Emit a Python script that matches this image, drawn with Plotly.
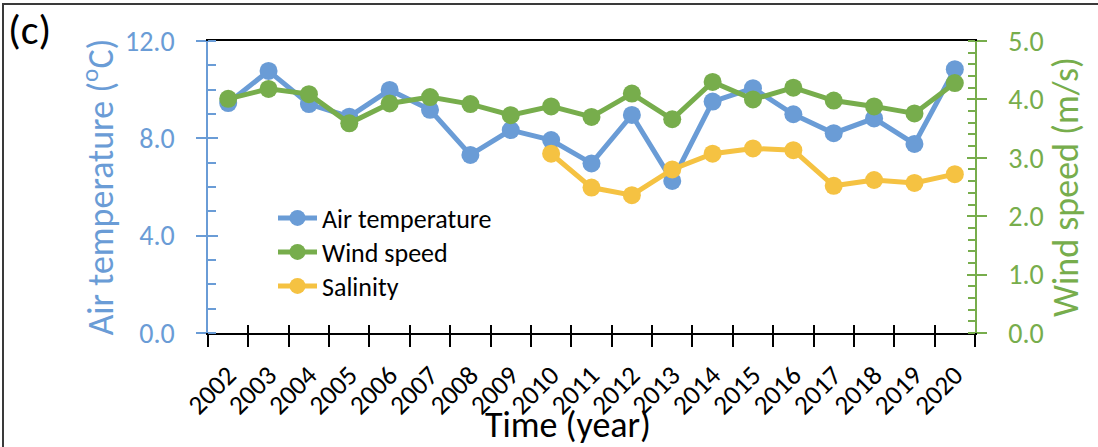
import plotly.graph_objects as go

years = [str(y) for y in range(2002, 2021)]
air_temperature = [9.45, 10.77, 9.41, 8.89, 9.99, 9.17, 7.32, 8.34, 7.93, 6.97,
                   8.96, 6.25, 9.51, 10.06, 8.99, 8.21, 8.82, 7.77, 10.84]
wind_speed = [4.01, 4.18, 4.09, 3.59, 3.93, 4.04, 3.92, 3.73, 3.88, 3.70,
              4.10, 3.66, 4.30, 4.00, 4.20, 3.98, 3.88, 3.76, 4.28]
salinity = [None, None, None, None, None, None, None, None, 3.07, 2.49,
            2.36, 2.80, 3.07, 3.16, 3.13, 2.52, 2.62, 2.57, 2.72]

BLUE = "#6A9CD6"
GREEN = "#77AD4C"
YELLOW = "#F5C242"
FONT = "Calibri, Carlito, Lato, sans-serif"

W, H = 1098, 447
L, R, T, B = 208, 123, 41, 114
PW, PH = W - L - R, H - T - B


def px(x):
    return (x - L) / PW


def py(y):
    return (H - B - y) / PH


fig = go.Figure()
fig.add_trace(go.Scatter(x=years, y=air_temperature, name="Air temperature",
                         mode="lines+markers", xaxis="x", yaxis="y",
                         line=dict(color=BLUE, width=5),
                         marker=dict(color=BLUE, size=18), legend="legend"))
fig.add_trace(go.Scatter(x=years, y=wind_speed, name="Wind speed",
                         mode="lines+markers", xaxis="x", yaxis="y2",
                         line=dict(color=GREEN, width=5),
                         marker=dict(color=GREEN, size=18), legend="legend2"))
fig.add_trace(go.Scatter(x=years, y=salinity, name="Salinity",
                         mode="lines+markers", xaxis="x2", yaxis="y2",
                         line=dict(color=YELLOW, width=5),
                         marker=dict(color=YELLOW, size=18), legend="legend3"))
# invisible helpers so inner halves of crossing ticks are drawn
empty = [None] * len(years)
fig.add_trace(go.Scatter(x=years, y=empty, xaxis="x", yaxis="y3", name="h1",
                         showlegend=False, hoverinfo="skip"))
fig.add_trace(go.Scatter(x=years, y=empty, xaxis="x", yaxis="y4", name="h2",
                         showlegend=False, hoverinfo="skip"))


def legend_at(ycenter):
    return dict(x=px(273), y=py(ycenter), xanchor="left", yanchor="middle",
                font=dict(family=FONT, size=26, color="black"),
                bgcolor="rgba(0,0,0,0)", itemwidth=39)


fig.update_layout(
    width=W, height=H,
    template="none",
    paper_bgcolor="white", plot_bgcolor="white",
    margin=dict(l=L, r=R, t=T, b=B, autoexpand=False),
    font=dict(family=FONT, color="black"),
    showlegend=True,
    legend=legend_at(218),
    legend2=legend_at(252),
    legend3=legend_at(286),
    xaxis=dict(type="category", categoryorder="array", categoryarray=years,
               range=[-0.5, 18.5], tickson="boundaries",
               ticks="outside", ticklen=12, tickwidth=1.5, tickcolor="black",
               showline=True, linecolor="black", linewidth=1.5, mirror=True,
               showgrid=False, zeroline=False, tickangle=-45,
               ticklabelstandoff=14,
               tickfont=dict(family=FONT, size=27, color="black")),
    xaxis2=dict(type="category", categoryorder="array", categoryarray=years,
                range=[-0.5, 18.5], overlaying="x", side="bottom",
                tickson="boundaries", ticks="inside", ticklen=8,
                tickwidth=1.5, tickcolor="black", showticklabels=False,
                showline=False, showgrid=False, zeroline=False),
    yaxis=dict(range=[0, 12], tick0=0, dtick=4, tickformat=".1f",
               ticks="outside", ticklen=10, tickwidth=1.5, tickcolor=BLUE,
               minor=dict(dtick=1, ticks="inside", ticklen=8,
                          tickcolor=BLUE, tickwidth=1.5, showgrid=False),
               showline=True, linecolor=BLUE, linewidth=1.5,
               showgrid=False, zeroline=False,
               ticklabelstandoff=16,
               tickfont=dict(family=FONT, size=28, color=BLUE),
               title=dict(text="Air temperature (<sup>o</sup>C)", standoff=0,
                          font=dict(family=FONT, size=36, color=BLUE))),
    yaxis2=dict(range=[0, 5], tick0=0, dtick=1, tickformat=".1f",
                overlaying="y", side="right",
                ticks="outside", ticklen=10, tickwidth=1.5, tickcolor=GREEN,
                minor=dict(dtick=0.2, ticks="inside", ticklen=7,
                           tickcolor=GREEN, tickwidth=1.5, showgrid=False),
                showline=True, linecolor=GREEN, linewidth=1.5,
                showgrid=False, zeroline=False,
                ticklabelstandoff=16,
                tickfont=dict(family=FONT, size=28, color=GREEN),
                title=dict(text="Wind speed (m/s)", standoff=6,
                           font=dict(family=FONT, size=36, color=GREEN))),
    yaxis3=dict(range=[0, 12], tick0=0, dtick=4, overlaying="y", side="left",
                ticks="inside", ticklen=10, tickwidth=1.5, tickcolor=BLUE,
                showticklabels=False, showline=False, showgrid=False,
                zeroline=False),
    yaxis4=dict(range=[0, 5], tick0=0, dtick=1, overlaying="y", side="right",
                ticks="inside", ticklen=8, tickwidth=1.5, tickcolor=GREEN,
                showticklabels=False, showline=False, showgrid=False,
                zeroline=False),
)

# outer frame (top and left edges of the panel)
fig.add_shape(type="rect", xref="paper", yref="paper",
              x0=px(3), x1=px(W + 20), y0=py(4), y1=py(H + 20),
              line=dict(color="#3a3a3a", width=2), layer="above")

fig.add_annotation(text="(c)", xref="paper", yref="paper",
                   x=px(29), y=py(30), xanchor="center", yanchor="middle",
                   showarrow=False,
                   font=dict(family=FONT, size=42, color="black"))

fig.add_annotation(text="Time (year)", xref="paper", yref="paper",
                   x=px(568), y=py(425), xanchor="center", yanchor="middle",
                   showarrow=False,
                   font=dict(family=FONT, size=36, color="black"))

fig.write_html("out.html",
               config={"displayModeBar": False},
               post_script="document.body.style.margin='0';"
                           "document.body.style.overflow='hidden';")
